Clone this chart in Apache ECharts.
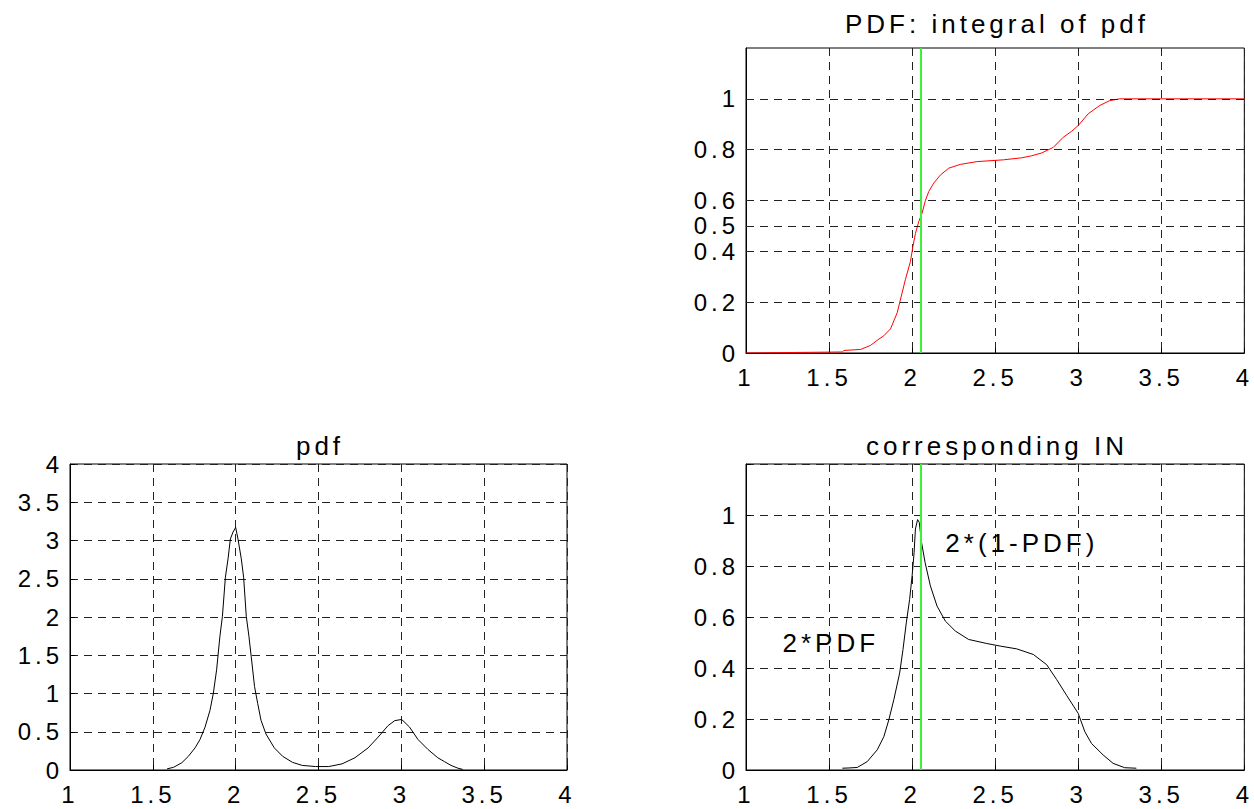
<!DOCTYPE html>
<html>
<head>
<meta charset="utf-8">
<title>PDF / corresponding IN</title>
<script src="https://cdn.jsdelivr.net/npm/echarts@6/dist/echarts.min.js"></script>
<style>
  html, body { margin: 0; padding: 0; background: #ffffff; }
  #chart { width: 1254px; height: 809px; }
  /* wide letter spacing for every label */
  #chart svg text { letter-spacing: 4px; }
</style>
</head>
<body>
<div id="chart"></div>
<script>
// ---- data ----
const xTicks = [1, 1.5, 2, 2.5, 3, 3.5, 4];
const cdfTicks = [0, 0.2, 0.4, 0.5, 0.6, 0.8, 1];
const medianX = 2.05;

// cumulative distribution (integral of pdf)
const cdfX = [1.00, 1.58, 1.59, 1.69, 1.75, 1.79, 1.83, 1.87, 1.91, 1.935, 1.96, 1.99, 2.005, 2.02, 2.04, 2.06, 2.08, 2.10, 2.13, 2.17, 2.22, 2.29, 2.39, 2.55, 2.66, 2.72, 2.78, 2.85, 2.91, 2.96, 3.00, 3.06, 3.13, 3.19, 3.25, 4.00];
const cdfY = [0, 0.004, 0.01, 0.014, 0.03, 0.05, 0.068, 0.095, 0.158, 0.224, 0.29, 0.36, 0.42, 0.47, 0.517, 0.55, 0.60, 0.635, 0.668, 0.70, 0.727, 0.742, 0.753, 0.76, 0.768, 0.776, 0.787, 0.809, 0.849, 0.872, 0.895, 0.941, 0.974, 0.993, 1.0, 1.0];

// probability density
const pdfX = [1.586, 1.625, 1.675, 1.715, 1.755, 1.785, 1.815, 1.845, 1.865, 1.885, 1.905, 1.92, 1.938, 1.954, 1.968, 1.984, 2.0, 2.014, 2.034, 2.048, 2.064, 2.08, 2.094, 2.114, 2.133, 2.153, 2.183, 2.233, 2.283, 2.343, 2.402, 2.482, 2.562, 2.642, 2.72, 2.80, 2.86, 2.92, 2.96, 3.0, 3.01, 3.05, 3.10, 3.16, 3.22, 3.26, 3.30, 3.34, 3.37];
const pdfY = [0.015, 0.035, 0.095, 0.18, 0.29, 0.40, 0.56, 0.78, 1.0, 1.31, 1.75, 2.01, 2.52, 2.76, 3.02, 3.11, 3.17, 3.02, 2.76, 2.52, 2.01, 1.75, 1.48, 1.09, 0.87, 0.65, 0.47, 0.29, 0.18, 0.10, 0.06, 0.045, 0.045, 0.08, 0.16, 0.29, 0.43, 0.58, 0.645, 0.66, 0.645, 0.56, 0.40, 0.27, 0.16, 0.11, 0.06, 0.025, 0.008];

// corresponding IN
const inX = [1.58, 1.62, 1.67, 1.73, 1.79, 1.83, 1.86, 1.89, 1.925, 1.945, 1.965, 1.985, 2.0, 2.012, 2.02, 2.033, 2.043, 2.057, 2.078, 2.11, 2.15, 2.2, 2.26, 2.34, 2.45, 2.53, 2.63, 2.73, 2.81, 2.87, 2.93, 3.0, 3.04, 3.08, 3.15, 3.21, 3.28, 3.35];
const inY = [0.007, 0.008, 0.01, 0.033, 0.079, 0.131, 0.197, 0.276, 0.38, 0.472, 0.577, 0.669, 0.761, 0.853, 0.945, 0.982, 0.971, 0.892, 0.814, 0.722, 0.643, 0.584, 0.545, 0.512, 0.496, 0.486, 0.475, 0.453, 0.413, 0.355, 0.293, 0.222, 0.15, 0.104, 0.059, 0.026, 0.009, 0.007];

const titles = ['PDF: integral of pdf', 'pdf', 'corresponding IN'];
const notes = ['2*(1-PDF)', '2*PDF'];

// ---- helpers ----
const FONT = "'Liberation Sans', Arial, Helvetica, sans-serif";
const TICK_SIZE = 24;
const zip = (xs, ys) => xs.map((x, i) => [x, ys[i]]);
const gridLine = { color: '#222', width: 1, type: [8, 6] };

function xAxisFor(gridIndex) {
  return {
    type: 'value', gridIndex,
    min: xTicks[0], max: xTicks[xTicks.length - 1], interval: 0.5,
    axisLine: { show: true, onZero: false, lineStyle: { color: '#000', width: 1 } },
    axisTick: { show: true, inside: true, length: 5, lineStyle: { color: '#000' } },
    axisLabel: { color: '#000', fontSize: TICK_SIZE, fontFamily: FONT, margin: 12 },
    splitLine: { show: true, lineStyle: gridLine }
  };
}

function yAxisBase(gridIndex) {
  return {
    type: 'value', gridIndex,
    axisLine: { show: true, onZero: false, lineStyle: { color: '#000', width: 1 } },
    axisTick: { show: true, inside: true, length: 5, lineStyle: { color: '#000' } },
    axisLabel: { color: '#000', fontSize: TICK_SIZE, fontFamily: FONT, margin: 7 },
    splitLine: { show: true, lineStyle: gridLine }
  };
}

const yCdf = Object.assign(yAxisBase(0), { min: 0, max: 1.2 });
yCdf.axisLabel.customValues = cdfTicks;
yCdf.axisTick.customValues = cdfTicks;
yCdf.splitLine = { show: false };

const yPdf = Object.assign(yAxisBase(1), { min: 0, max: 4, interval: 0.5 });

const yIn = Object.assign(yAxisBase(2), { min: 0, max: 1.2, interval: 0.2 });
yIn.axisLabel.formatter = v => (v > 1.05 ? '' : String(+v.toFixed(1)));

const greenLine = {
  xAxis: medianX,
  lineStyle: { color: '#3cf03c', width: 2, type: 'solid' }
};

const titleStyle = { color: '#000', fontSize: 26, fontWeight: 'normal', fontFamily: FONT };

const option = {
  animation: false,
  backgroundColor: '#ffffff',
  title: [
    { text: titles[0], left: 997, top: 11, textAlign: 'center', padding: 0, textStyle: titleStyle },
    { text: titles[1], left: 320, top: 433, textAlign: 'center', padding: 0, textStyle: titleStyle },
    { text: titles[2], left: 997, top: 433, textAlign: 'center', padding: 0, textStyle: titleStyle }
  ],
  grid: [
    { left: 746, top: 48, width: 499, height: 305, show: true, borderColor: '#000', borderWidth: 1, backgroundColor: 'transparent' },
    { left: 70, top: 464, width: 497, height: 306, show: true, borderColor: '#000', borderWidth: 1, backgroundColor: 'transparent' },
    { left: 746, top: 464, width: 499, height: 306, show: true, borderColor: '#000', borderWidth: 1, backgroundColor: 'transparent' }
  ],
  xAxis: [xAxisFor(0), xAxisFor(1), xAxisFor(2)],
  yAxis: [yCdf, yPdf, yIn],
  series: [
    {
      type: 'line', xAxisIndex: 0, yAxisIndex: 0,
      data: zip(cdfX, cdfY),
      symbol: 'none', silent: true,
      lineStyle: { color: '#ff0000', width: 1 },
      markLine: {
        silent: true, symbol: ['none', 'none'], label: { show: false },
        lineStyle: gridLine,
        data: cdfTicks.filter(v => v > 0).map(v => ({ yAxis: v })).concat([greenLine])
      }
    },
    {
      type: 'line', xAxisIndex: 1, yAxisIndex: 1,
      data: zip(pdfX, pdfY),
      symbol: 'none', silent: true,
      lineStyle: { color: '#000', width: 1 }
    },
    {
      type: 'line', xAxisIndex: 2, yAxisIndex: 2,
      data: zip(inX, inY),
      symbol: 'none', silent: true,
      lineStyle: { color: '#000', width: 1 },
      markLine: {
        silent: true, symbol: ['none', 'none'], label: { show: false },
        data: [greenLine]
      },
      // curve annotations
      markPoint: {
        silent: true, symbol: 'circle', symbolSize: 0,
        itemStyle: { color: 'transparent' },
        label: {
          show: true, position: 'right', distance: 0,
          formatter: p => p.name,
          color: '#000', fontSize: 26, fontFamily: FONT, opacity: 1
        },
        data: [
          { name: notes[0], coord: [2.2, 0.89] },
          { name: notes[1], coord: [1.22, 0.5] }
        ]
      }
    }
  ]
};

const chart = echarts.init(document.getElementById('chart'), null, { renderer: 'svg', width: 1254, height: 809 });
chart.setOption(option);
</script>
</body>
</html>
